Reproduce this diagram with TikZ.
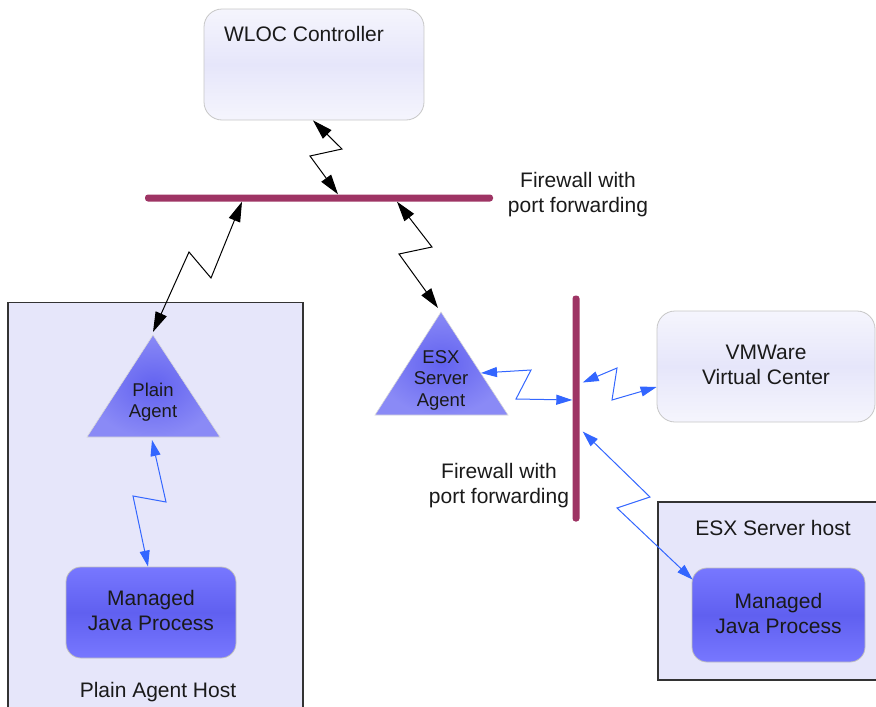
\documentclass[tikz,border=0pt]{standalone}
\usepackage{fontspec}
\setmainfont{Liberation Sans}
\usetikzlibrary{arrows.meta,calc}
\definecolor{fwcol}{HTML}{9E3464}
\definecolor{hostfill}{HTML}{E6E6FA}
\definecolor{linkblue}{HTML}{3366FF}
\definecolor{txt}{HTML}{1A1A1A}
\tikzset{
  bigtext/.style={font=\fontsize{21}{25}\selectfont, text=txt, align=center},
  smalltext/.style={font=\fontsize{18.5}{21.5}\selectfont, text=txt, align=center},
  softbox/.style={draw=black!22, line width=0.8pt, rounded corners=18pt, top color=white!60!hostfill, bottom color=white!60!hostfill, middle color=hostfill},
  procbox/.style={draw=black!25, line width=0.8pt, rounded corners=15pt, top color=blue!45!white!85!blue, bottom color=blue!45!white!85!blue, middle color={rgb,255:red,96;green,96;blue,240}},
  hostbox/.style={draw=black!80, line width=1.2pt, fill=hostfill},
  firewall/.style={fill=fwcol, draw=none, rounded corners=3pt, inner sep=0pt},
  blacklink/.style={draw=black, line width=1pt, {Triangle[length=20pt,width=12pt]}-{Triangle[length=20pt,width=12pt]}},
  bluelink/.style={draw=linkblue, line width=1pt, {Triangle[length=16pt,width=10pt]}-{Triangle[length=16pt,width=10pt]}},
  agentshade/.style={inner color={rgb,255:red,98;green,98;blue,240}, outer color={rgb,255:red,138;green,138;blue,246}, draw=black!15, line width=0.6pt}
}
\begin{document}
\begin{tikzpicture}[x=1pt,y=-1pt]
\useasboundingbox (0,0) rectangle (876,707);
\clip (0,0) rectangle (876,707);

% host boxes
\node[hostbox, minimum width=295pt, minimum height=415pt, inner sep=0pt] (pahost) at (155.5,510) {};
\node[hostbox, minimum width=230pt, minimum height=178pt, inner sep=0pt] (esxhost) at (773,591) {};
\node[bigtext] (pahostlbl) at (158,692) {Plain Agent Host};
\node[bigtext] (esxhostlbl) at (773,528) {ESX Server host};

% WLOC controller
\node[softbox, minimum width=220pt, minimum height=111pt, inner sep=0pt] (wloc) at (314,64.5) {};
\node[bigtext] (wloclbl) at (304,34) {WLOC Controller};

% VMWare
\node[softbox, minimum width=218pt, minimum height=111pt, inner sep=0pt] (vmw) at (766,366.5) {};
\node[bigtext] (vmwlbl) at (766,365) {VMWare\\Virtual Center};

% Managed Java processes
\node[procbox, minimum width=170pt, minimum height=91pt, inner sep=0pt] (mjp1) at (151,612.5) {};
\node[bigtext] (mjp1lbl) at (151,610.5) {Managed\\Java Process};
\node[procbox, minimum width=173pt, minimum height=94pt, inner sep=0pt] (mjp2) at (778.5,615) {};
\node[bigtext] (mjp2lbl) at (778.5,613) {Managed\\Java Process};

% Plain agent triangle
\coordinate (paTop) at (153,335);
\coordinate (paL) at (87,437);
\coordinate (paR) at (220,437);
\shade[agentshade] (paTop) -- (paR) -- (paL) -- cycle;
\node[smalltext] (pa) at (153,402) {Plain\\Agent};

% ESX agent triangle
\coordinate (esxTop) at (441,312);
\coordinate (esxL) at (375,415);
\coordinate (esxR) at (508,415);
\shade[agentshade] (esxTop) -- (esxR) -- (esxL) -- cycle;
\node[smalltext] (esx) at (441,380) {ESX\\Server\\Agent};

% firewalls
\node[firewall, minimum width=348pt, minimum height=7pt] (fw1) at (319,198) {};
\node[bigtext] (fw1lbl) at (578,195) {Firewall with\\port forwarding};
\node[firewall, minimum width=7pt, minimum height=226pt] (fw2) at (576,408.5) {};
\node[bigtext] (fw2lbl) at (499,486) {Firewall with\\port forwarding};

% black links
\draw[blacklink] ($(wloc.south)+(-1,0)$) -- (342,149) -- (310,156) -- ($(fw1.north)+(19,0)$);
\draw[blacklink] ($(fw1.south)+(-77,0)$) -- (211,278) -- (189,252) -- ($(paTop)+(0,-3)$);
\draw[blacklink] ($(fw1.south)+(78,0)$) -- (432,247) -- (399,254) -- ($(esxTop)+(-3,-4)$);

% blue links
\draw[bluelink] ($(paTop)+(-1,105)$) -- (166,502) -- (133,496) -- ($(mjp1.north)+(-3,0)$);
\draw[bluelink] (481,373) -- (531,370) -- (516,399) -- ($(fw2.west)+(0,-8.5)$);
\draw[bluelink] ($(fw2.east)+(3,-26)$) -- (617,368) -- (612,400) -- ($(vmw.west)+(0,20.5)$);
\draw[bluelink] ($(fw2.east)+(3,23)$) -- (650,497) -- (617,508) -- ($(mjp2.north west)+(1,12)$);
\end{tikzpicture}
\end{document}
